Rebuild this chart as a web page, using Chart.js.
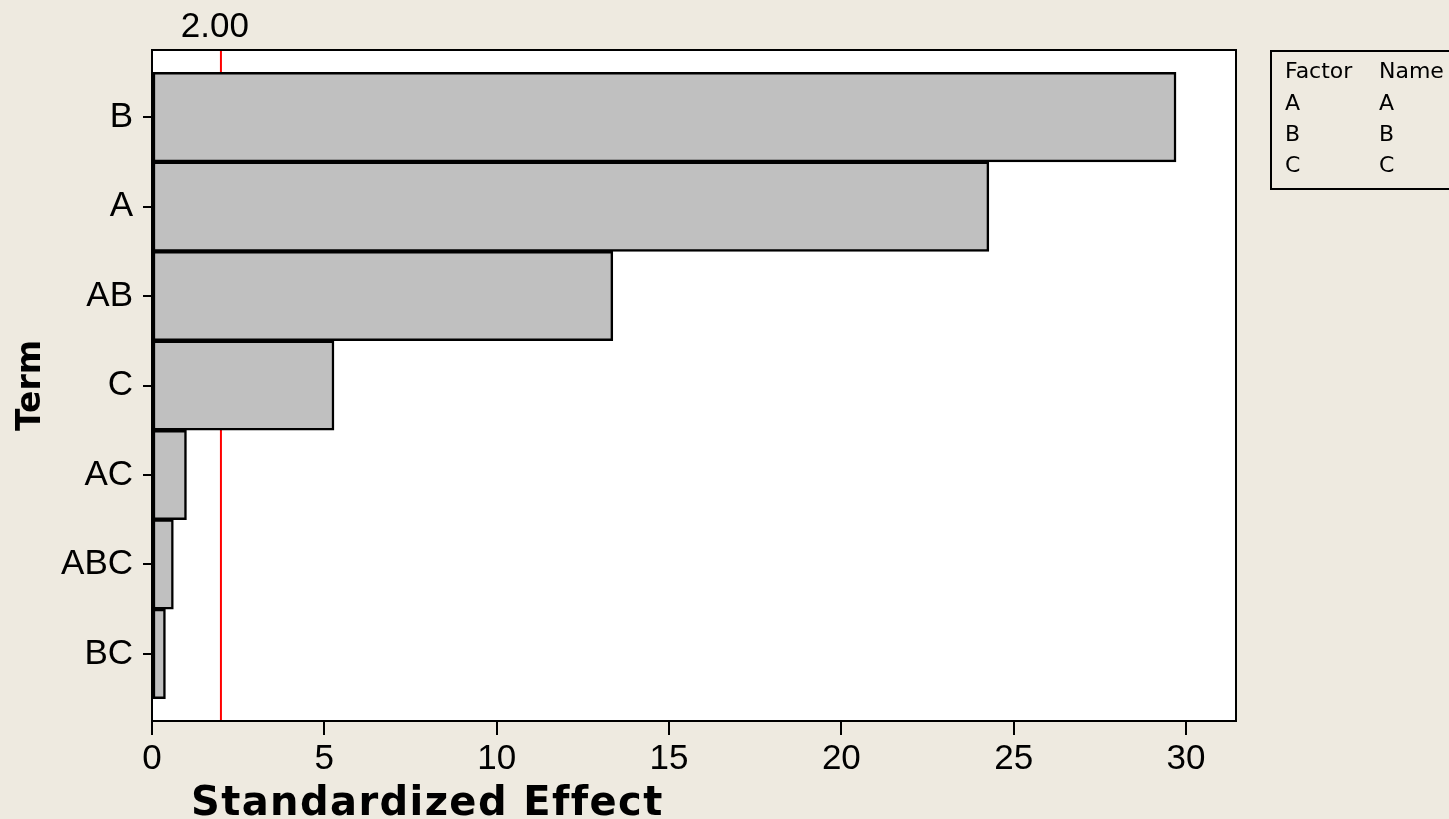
<!DOCTYPE html>
<html>
<head>
<meta charset="utf-8">
<script src="https://cdn.jsdelivr.net/npm/chart.js@4/dist/chart.umd.min.js"></script>
<style>
  html, body { margin: 0; padding: 0; background: #EEEAE0; }
  canvas { display: block; }
</style>
</head>
<body>
<canvas id="myChart" width="1449" height="819"></canvas>
<script>
// Pareto chart of the standardized effects
const terms = ['B', 'A', 'AB', 'C', 'AC', 'ABC', 'BC'];
const effects = [29.71, 24.28, 13.37, 5.28, 1.0, 0.62, 0.39];
const refValue = 2.0;
const refLabel = '2.00';
const factorCodes = ['A', 'B', 'C'];
const factorNames = ['A', 'B', 'C'];
const xTicks = [0, 5, 10, 15, 20, 25, 30];

const tickFont = { family: 'Liberation Sans', size: 35 };

const paretoExtras = {
  id: 'paretoExtras',
  beforeDraw(chart) {
    const { ctx, chartArea: a } = chart;
    ctx.save();
    ctx.fillStyle = '#FFFFFF';
    ctx.fillRect(a.left, a.top, a.right - a.left, a.bottom - a.top);
    ctx.restore();
  },
  beforeDatasetsDraw(chart) {
    // reference line sits behind the bars
    const { ctx, chartArea: a, scales: { x } } = chart;
    const px = x.getPixelForValue(refValue);
    ctx.save();
    ctx.strokeStyle = '#FF0000';
    ctx.lineWidth = 2;
    ctx.beginPath();
    ctx.moveTo(px, a.top);
    ctx.lineTo(px, a.bottom);
    ctx.stroke();
    ctx.fillStyle = '#000';
    ctx.font = '35px "Liberation Sans"';
    ctx.textAlign = 'center';
    ctx.textBaseline = 'alphabetic';
    ctx.fillText(refLabel, px - 6, 37);
    ctx.restore();
  },
  afterDatasetsDraw(chart) {
    const { ctx, chartArea: a } = chart;
    ctx.save();
    ctx.strokeStyle = '#000';
    ctx.lineWidth = 2;
    ctx.strokeRect(a.left, a.top, a.right - a.left, a.bottom - a.top);

    // axis titles
    ctx.fillStyle = '#000';
    ctx.font = 'bold 40px "DejaVu Sans"';
    ctx.letterSpacing = '1.4px';
    ctx.textAlign = 'left';
    ctx.textBaseline = 'alphabetic';
    ctx.fillText('Standardized Effect', 191, 815);
    ctx.letterSpacing = '0px';

    ctx.save();
    ctx.translate(40, (a.top + a.bottom) / 2);
    ctx.rotate(-Math.PI / 2);
    ctx.font = 'bold 33px "DejaVu Sans"';
    ctx.textAlign = 'center';
    ctx.fillText('Term', 0, 0);
    ctx.restore();

    // factor table
    ctx.lineWidth = 2;
    ctx.strokeRect(1271, 51, 200, 138);
    ctx.font = '22px "DejaVu Sans"';
    ctx.textAlign = 'left';
    ctx.fillText('Factor', 1285, 78);
    ctx.fillText('Name', 1379, 78);
    factorCodes.forEach((code, i) => {
      ctx.fillText(code, 1285, 110 + i * 31);
      ctx.fillText(factorNames[i], 1379, 110 + i * 31);
    });
    ctx.restore();
  }
};

new Chart(document.getElementById('myChart'), {
  type: 'bar',
  data: {
    datasets: [{
      label: 'Effect',
      data: effects.map((v, i) => ({ x: v, y: i })),
      backgroundColor: '#C0C0C0',
      borderColor: '#000000',
      borderWidth: 2.5,
      borderSkipped: false,
      categoryPercentage: 1,
      barPercentage: 1
    }]
  },
  options: {
    indexAxis: 'y',
    responsive: false,
    animation: false,
    layout: { padding: { top: 50, right: 213, left: 0, bottom: 0 } },
    plugins: {
      legend: { display: false },
      tooltip: { enabled: false }
    },
    scales: {
      x: {
        type: 'linear',
        min: 0,
        max: 31.45,
        offset: false,
        afterFit(scale) { scale.height = 98; },
        afterBuildTicks(scale) { scale.ticks = xTicks.map(v => ({ value: v })); },
        ticks: { color: '#000', font: tickFont, padding: 3, maxRotation: 0 },
        grid: { offset: false, drawOnChartArea: false, tickLength: 14, color: '#000', lineWidth: 2 },
        border: { display: true, color: '#000', width: 2 }
      },
      y: {
        type: 'linear',
        min: -0.75,
        max: 6.75,
        reverse: true,
        offset: false,
        afterFit(scale) { scale.width = 152; },
        afterBuildTicks(scale) { scale.ticks = terms.map((t, i) => ({ value: i })); },
        ticks: {
          color: '#000',
          font: tickFont,
          padding: 10,
          callback: (v) => terms[v]
        },
        grid: { offset: false, drawOnChartArea: false, tickLength: 9, color: '#000', lineWidth: 2 },
        border: { display: true, color: '#000', width: 2 }
      }
    }
  },
  plugins: [paretoExtras]
});
</script>
</body>
</html>
